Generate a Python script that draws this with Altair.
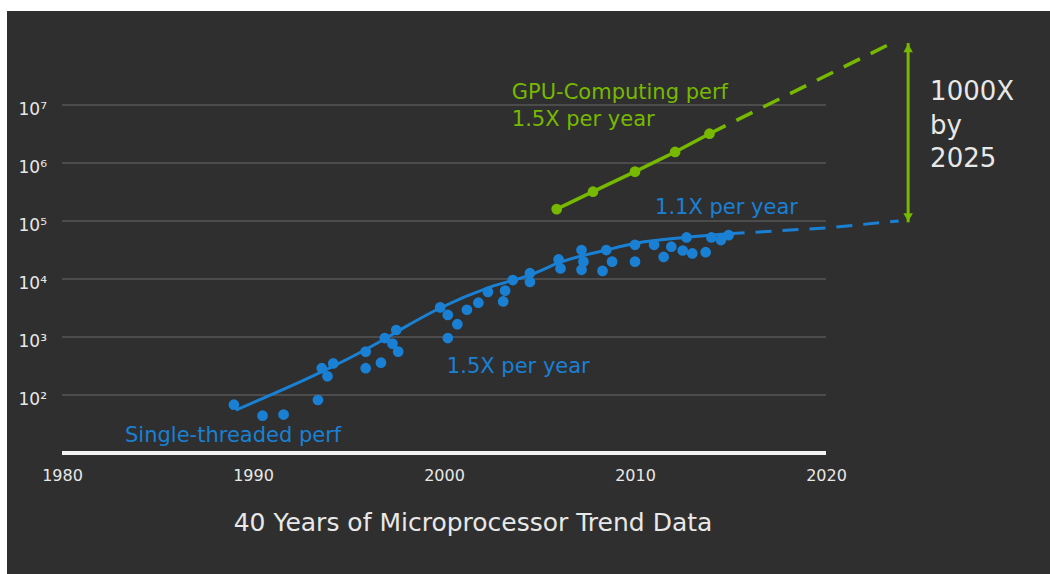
import altair as alt
import pandas as pd

# ---- data ----
st_years = [1989.0, 1990.5, 1991.6, 1993.4, 1993.6, 1993.9, 1994.2, 1995.9, 1995.9, 1996.7,
            1996.9, 1997.3, 1997.5, 1997.6, 1999.8, 2000.2, 2000.2, 2000.7, 2001.2, 2001.8,
            2002.3, 2003.2, 2003.1, 2003.6, 2004.5, 2004.5, 2006.0, 2006.1, 2007.2, 2007.3,
            2007.2, 2008.5, 2008.3, 2008.8, 2010.0, 2010.0, 2011.0, 2011.5, 2011.9, 2012.5,
            2012.7, 2013.0, 2013.7, 2014.0, 2014.5, 2014.9]
st_perf = [68, 44, 46, 82, 290, 210, 350, 290, 560, 360,
           960, 770, 1320, 560, 3240, 2400, 960, 1660, 2950, 3900,
           6000, 6300, 4100, 9600, 12600, 8900, 21700, 15200, 31600, 19900,
           14400, 31600, 13800, 19900, 38900, 19900, 38900, 24000, 36000, 31000,
           52000, 27600, 29000, 52000, 47000, 57000]

st_trend_years = [1989.1, 1996.8, 1997.9, 1999.8, 2002.4, 2004.5, 2006.1, 2008.5, 2010.1, 2012.7, 2014.9]
st_trend_perf = [55, 890, 1450, 3160, 7240, 11700, 19500, 31600, 41700, 52500, 60300]
st_proj_years = [2014.9, 2020.0, 2023.8]
st_proj_perf = [60300, 75900, 100000]

gpu_years = [2005.9, 2007.8, 2010.0, 2012.1, 2013.9]
gpu_perf = [160000, 320000, 710000, 1550000, 3200000]
gpu_proj_years = [2013.9, 2023.6]
gpu_proj_perf = [3200000, 124000000]

arrow_year = 2024.3
arrow_top = 117000000
arrow_bottom = 95000

grid_values = [1e2, 1e3, 1e4, 1e5, 1e6, 1e7]
x_ticks = [1980, 1990, 2000, 2010, 2020]

green_labels = ["GPU-Computing perf", "1.5X per year"]
green_label_years = [2003.55, 2003.55]
green_label_perf = [16200000, 5500000]

blue_labels = ["1.1X per year", "1.5X per year", "Single-threaded perf"]
blue_label_years = [2011.05, 2000.15, 1983.3]
blue_label_perf = [166000, 302, 19.5]

note_lines = ["1000X", "by", "2025"]
note_years = [2025.45, 2025.45, 2025.45]
note_perf = [16600000, 4370000, 1170000]

chart_title = "40 Years of Microprocessor Trend Data"

BG = "#2f2f2f"
BLUE = "#1a80d4"
GREEN = "#76b900"
TEXT = "#e8e8e8"
FONT = "DejaVu Sans"

xs = alt.Scale(domain=[1980, 2030], nice=False, zero=False)
ys = alt.Scale(type="log", domain=[10, 10 ** 8.5], nice=False)

x_axis = alt.Axis(values=x_ticks, format="d", grid=False, domain=False, ticks=False, tickSize=0,
                  labelFlush=False, labelPadding=14, labelFontSize=16, labelColor=TEXT,
                  labelFont=FONT, title=None)
y_axis = alt.Axis(values=grid_values, grid=False, domain=False, ticks=False, tickSize=0,
                  labelAlign="left", labelPadding=44, labelOffset=4, labelFontSize=17,
                  labelColor=TEXT, labelFont=FONT, title=None,
                  labelExpr="{'100':'10²','1000':'10³','10000':'10⁴','100000':'10⁵','1000000':'10⁶','10000000':'10⁷'}[''+datum.value]")


def X(f):
    return alt.X(f, type="quantitative", scale=xs, axis=x_axis)


def Y(f):
    return alt.Y(f, type="quantitative", scale=ys, axis=y_axis)


# screenshot margins (white strips) and title
one = pd.DataFrame({"a": [0]})
strip_left = alt.Chart(one).mark_rect(color="white").encode(
    x=alt.value(-62), x2=alt.value(-55), y=alt.value(-18), y2=alt.value(556))
strip_top = alt.Chart(one).mark_rect(color="white").encode(
    x=alt.value(-62), x2=alt.value(988), y=alt.value(-18), y2=alt.value(-7))
title_txt = alt.Chart(pd.DataFrame({"t": [chart_title]})).mark_text(
    align="center", baseline="middle", color=TEXT, fontSize=25, font=FONT).encode(
    x=alt.value(411), y=alt.value(505), text="t:N")

grid_df = pd.DataFrame({"v": grid_values, "x0": [1980] * len(grid_values), "x1": [2020] * len(grid_values)})
grid = alt.Chart(grid_df).mark_rule(color="#575757", strokeWidth=1.5).encode(
    x=X("x0"), x2="x1", y=Y("v"))

base_df = pd.DataFrame({"v": [10], "x0": [1980], "x1": [2020]})
baseline = alt.Chart(base_df).mark_rule(color="#f2f2f2", strokeWidth=4).encode(
    x=X("x0"), x2="x1", y=Y("v"))

st_pts = alt.Chart(pd.DataFrame({"year": st_years, "perf": st_perf})).mark_circle(
    color=BLUE, size=115, opacity=1).encode(x=X("year"), y=Y("perf"))
st_line = alt.Chart(pd.DataFrame({"year": st_trend_years, "perf": st_trend_perf})).mark_line(
    color=BLUE, strokeWidth=3, interpolate="monotone").encode(x=X("year"), y=Y("perf"))
st_proj = alt.Chart(pd.DataFrame({"year": st_proj_years, "perf": st_proj_perf})).mark_line(
    color=BLUE, strokeWidth=3, strokeDash=[16, 11]).encode(x=X("year"), y=Y("perf"))

gpu_line = alt.Chart(pd.DataFrame({"year": gpu_years, "perf": gpu_perf})).mark_line(
    color=GREEN, strokeWidth=3.5).encode(x=X("year"), y=Y("perf"))
gpu_pts = alt.Chart(pd.DataFrame({"year": gpu_years, "perf": gpu_perf})).mark_circle(
    color=GREEN, size=115, opacity=1).encode(x=X("year"), y=Y("perf"))
gpu_proj = alt.Chart(pd.DataFrame({"year": gpu_proj_years, "perf": gpu_proj_perf})).mark_line(
    color=GREEN, strokeWidth=3.5, strokeDash=[18, 12]).encode(x=X("year"), y=Y("perf"))

arrow_df = pd.DataFrame({"year": [arrow_year], "top": [arrow_top], "bottom": [arrow_bottom]})
arrow_line = alt.Chart(arrow_df).mark_rule(color=GREEN, strokeWidth=3).encode(
    x=X("year"), y=Y("top"), y2="bottom")
arrow_up = alt.Chart(arrow_df).mark_point(shape="triangle-up", filled=True, color=GREEN,
                                          size=90, opacity=1, yOffset=5).encode(x=X("year"), y=Y("top"))
arrow_down = alt.Chart(arrow_df).mark_point(shape="triangle-down", filled=True, color=GREEN,
                                            size=90, opacity=1, yOffset=-5).encode(x=X("year"), y=Y("bottom"))

green_txt = alt.Chart(pd.DataFrame({"t": green_labels, "year": green_label_years, "perf": green_label_perf})).mark_text(
    align="left", baseline="middle", color=GREEN, fontSize=21, font=FONT).encode(
    x=X("year"), y=Y("perf"), text="t:N")
blue_txt = alt.Chart(pd.DataFrame({"t": blue_labels, "year": blue_label_years, "perf": blue_label_perf})).mark_text(
    align="left", baseline="middle", color=BLUE, fontSize=21, font=FONT).encode(
    x=X("year"), y=Y("perf"), text="t:N")
note_txt = alt.Chart(pd.DataFrame({"t": note_lines, "year": note_years, "perf": note_perf})).mark_text(
    align="left", baseline="middle", color=TEXT, fontSize=26, font=FONT).encode(
    x=X("year"), y=Y("perf"), text="t:N")

chart = alt.layer(
    strip_left, strip_top, grid, baseline, st_proj, st_line, st_pts,
    gpu_proj, gpu_line, gpu_pts, arrow_line, arrow_up, arrow_down,
    green_txt, blue_txt, note_txt, title_txt,
).properties(
    width=955, height=435,
    padding={"left": 62, "top": 18, "right": 33, "bottom": 121},
    autosize=alt.AutoSizeParams(type="none"),
    background=BG,
).configure_view(stroke=None)

chart.save("out.html", embed_options={"renderer": "svg", "actions": False})
